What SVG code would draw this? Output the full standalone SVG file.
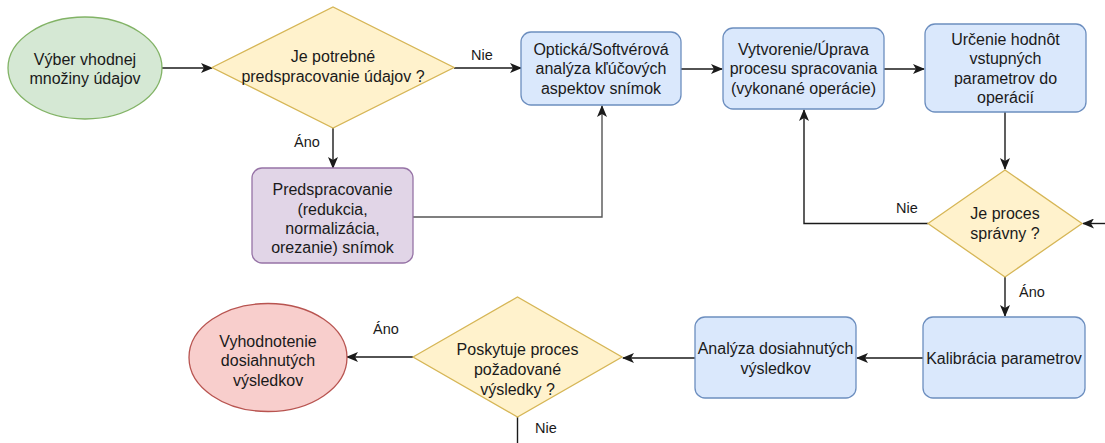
<svg xmlns="http://www.w3.org/2000/svg" width="1105" height="443" viewBox="0 0 1105 443">
  <defs>
    <marker id="arrow" markerUnits="userSpaceOnUse" markerWidth="12" markerHeight="10" viewBox="0 0 12 10" refX="11" refY="5" orient="auto">
      <path d="M0,0 L12,5 L0,10 L3,5 Z" fill="#1a1a1a"/>
    </marker>
    <style>
      .label { font-family: "Liberation Sans", Arial, sans-serif; font-size: 16px; fill: #1a1a1a; text-anchor: middle; }
      .edge-label { font-family: "Liberation Sans", Arial, sans-serif; font-size: 14.5px; fill: #1a1a1a; text-anchor: middle; }
      .green { fill: #d5e8d4; stroke: #82b366; stroke-width: 1.3; }
      .yellow { fill: #fff2cc; stroke: #d6b656; stroke-width: 1.3; }
      .blue { fill: #dae8fc; stroke: #6c8ebf; stroke-width: 1.3; }
      .purple { fill: #e1d5e7; stroke: #9673a6; stroke-width: 1.3; }
      .red { fill: #f8cecc; stroke: #b85450; stroke-width: 1.3; }
      .conn { fill: none; stroke: #1a1a1a; stroke-width: 1.4; }
      .conn.grey { stroke: #555555; }
    </style>
  </defs>
  <rect width="1105" height="443" fill="#ffffff"/>

  <!-- connectors -->
  <g id="connectors">
    <path class="conn" d="M162,68 L212,68" marker-end="url(#arrow)"/>
    <path class="conn" d="M454,68 L521,68" marker-end="url(#arrow)"/>
    <path class="conn" d="M333,128 L333,168" marker-end="url(#arrow)"/>
    <path class="conn grey" d="M413,217 L602,217 L602,106" marker-end="url(#arrow)"/>
    <path class="conn" d="M681,69 L722,69" marker-end="url(#arrow)"/>
    <path class="conn" d="M884,69 L924,69" marker-end="url(#arrow)"/>
    <path class="conn" d="M1005,112 L1005,169" marker-end="url(#arrow)"/>
    <path class="conn" d="M928,223.5 L804,223.5 L804,110" marker-end="url(#arrow)"/>
    <path class="conn" d="M1105,223.5 L1083,223.5" marker-end="url(#arrow)"/>
    <path class="conn" d="M1005,277 L1005,316" marker-end="url(#arrow)"/>
    <path class="conn" d="M923,358 L857,358" marker-end="url(#arrow)"/>
    <path class="conn" d="M695,358 L623,358" marker-end="url(#arrow)"/>
    <path class="conn" d="M413,357 L347,357" marker-end="url(#arrow)"/>
    <path class="conn" d="M517.5,417 L517.5,443"/>
    <text class="edge-label" x="482" y="60">Nie</text>
    <text class="edge-label" x="307" y="147">Áno</text>
    <text class="edge-label" x="907" y="213">Nie</text>
    <text class="edge-label" x="1032" y="297">Áno</text>
    <text class="edge-label" x="386" y="334">Áno</text>
    <text class="edge-label" x="546" y="433">Nie</text>
  </g>

  <!-- start -->
  <g id="start">
    <ellipse class="green" cx="85" cy="68" rx="77" ry="51"/>
    <text class="label" x="85" y="65">Výber vhodnej</text>
    <text class="label" x="85" y="84">množiny údajov</text>
  </g>

  <!-- decision: preprocessing needed -->
  <g id="need-preprocessing">
    <polygon class="yellow" points="212,67.5 333,7 454,67.5 333,128"/>
    <text class="label" x="333" y="62">Je potrebné</text>
    <text class="label" x="333" y="82">predspracovanie údajov ?</text>
  </g>

  <!-- preprocessing -->
  <g id="preprocessing">
    <rect class="purple" x="252" y="168" width="161" height="95" rx="10"/>
    <text class="label" x="332.5" y="195">Predspracovanie</text>
    <text class="label" x="332.5" y="214.5">(redukcia,</text>
    <text class="label" x="332.5" y="234">normalizácia,</text>
    <text class="label" x="332.5" y="253">orezanie) snímok</text>
  </g>

  <!-- key aspects analysis -->
  <g id="aspect-analysis">
    <rect class="blue" x="521" y="32" width="160" height="73" rx="10"/>
    <text class="label" x="601" y="55">Optická/Softvérová</text>
    <text class="label" x="601" y="74">analýza kľúčových</text>
    <text class="label" x="601" y="94">aspektov snímok</text>
  </g>

  <!-- processing pipeline -->
  <g id="processing">
    <rect class="blue" x="723" y="28" width="161" height="81" rx="10"/>
    <text class="label" x="803.5" y="55">Vytvorenie/Úprava</text>
    <text class="label" x="803.5" y="74">procesu spracovania</text>
    <text class="label" x="803.5" y="94">(vykonané operácie)</text>
  </g>

  <!-- input parameters -->
  <g id="input-parameters">
    <rect class="blue" x="925" y="24" width="161" height="88" rx="10"/>
    <text class="label" x="1005.5" y="45">Určenie hodnôt</text>
    <text class="label" x="1005.5" y="64">vstupných</text>
    <text class="label" x="1005.5" y="84">parametrov do</text>
    <text class="label" x="1005.5" y="103">operácií</text>
  </g>

  <!-- decision: process correct -->
  <g id="process-correct">
    <polygon class="yellow" points="928,223.5 1005,170 1082,223.5 1005,277"/>
    <text class="label" x="1005" y="219">Je proces</text>
    <text class="label" x="1005" y="239">správny ?</text>
  </g>

  <!-- calibration -->
  <g id="calibration">
    <rect class="blue" x="923" y="317" width="162" height="81" rx="10"/>
    <text class="label" x="1004" y="364">Kalibrácia parametrov</text>
  </g>

  <!-- results analysis -->
  <g id="results-analysis">
    <rect class="blue" x="695" y="317" width="161" height="81" rx="10"/>
    <text class="label" x="775.5" y="354">Analýza dosiahnutých</text>
    <text class="label" x="775.5" y="374">výsledkov</text>
  </g>

  <!-- decision: required results -->
  <g id="required-results">
    <polygon class="yellow" points="413,357 517.5,297 622,357 517.5,417"/>
    <text class="label" x="517.5" y="355">Poskytuje proces</text>
    <text class="label" x="517.5" y="375">požadované</text>
    <text class="label" x="517.5" y="395">výsledky ?</text>
  </g>

  <!-- end -->
  <g id="evaluation">
    <ellipse class="red" cx="268" cy="357.5" rx="79" ry="54"/>
    <text class="label" x="268" y="347">Vyhodnotenie</text>
    <text class="label" x="268" y="366">dosiahnutých</text>
    <text class="label" x="268" y="386">výsledkov</text>
  </g>
</svg>
